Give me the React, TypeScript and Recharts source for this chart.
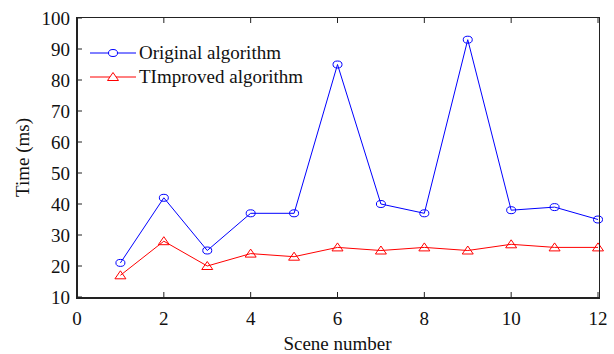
import { LineChart, Line, XAxis, YAxis, Label } from 'recharts';

const scenes = [1, 2, 3, 4, 5, 6, 7, 8, 9, 10, 11, 12];
const originalTimes = [21, 42, 25, 37, 37, 85, 40, 37, 93, 38, 39, 35];
const improvedTimes = [17, 28, 20, 24, 23, 26, 25, 26, 25, 27, 26, 26];
const xTicks = [0, 2, 4, 6, 8, 10, 12];
const yTicks = [10, 20, 30, 40, 50, 60, 70, 80, 90, 100];

const FONT = '"Liberation Serif", "Times New Roman", serif';
const BLUE = '#0000ff';
const RED = '#ff0000';
const AXIS = '#222222';
const TEXT = '#111';

const W = 614;
const H = 354;
const MARGIN = { top: 17, right: 15, bottom: 27, left: 17 };
const Y_AXIS_W = 60;
const X_AXIS_H = 30;

const data = scenes.map((s, i) => ({
    scene: s,
    original: originalTimes[i],
    improved: improvedTimes[i]
}));

const CircleDot = ({ cx, cy }: any) => (
    <ellipse cx={cx} cy={cy} rx={4.5} ry={3.5} fill="none" stroke={BLUE} strokeWidth={1} />
);

const TriangleDot = ({ cx, cy }: any) => (
    <path
        d={`M${cx},${cy - 4.5} L${cx + 5.5},${cy + 3.5} L${cx - 5.5},${cy + 3.5} Z`}
        fill="none"
        stroke={RED}
        strokeWidth={1}
    />
);

// inward ticks (matlab style): mark and label drawn together
const BottomTick = ({ x, y, payload }: any) => (
    <g>
        <line x1={x} y1={y} x2={x} y2={y - 5} stroke={AXIS} strokeWidth={1} />
        <text x={x} y={y + 15} dy="0.71em" textAnchor="middle" fontFamily={FONT} fontSize={19} fill={TEXT}>
            {payload.value}
        </text>
    </g>
);

const LeftTick = ({ x, y, payload }: any) => (
    <g>
        <line x1={x} y1={y} x2={x + 5} y2={y} stroke={AXIS} strokeWidth={1} />
        <text x={x - 7} y={y} dy="0.35em" textAnchor="end" fontFamily={FONT} fontSize={19} fill={TEXT}>
            {payload.value}
        </text>
    </g>
);

const TopTick = ({ x, y }: any) => <line x1={x} y1={y} x2={x} y2={y + 5} stroke={AXIS} strokeWidth={1} />;
const RightTick = ({ x, y }: any) => <line x1={x} y1={y} x2={x - 5} y2={y} stroke={AXIS} strokeWidth={1} />;

const XTitle = ({ viewBox }: any) => (
    <text
        x={viewBox.x + viewBox.width / 2}
        y={viewBox.y + 40}
        dy="0.71em"
        textAnchor="middle"
        fontFamily={FONT}
        fontSize={19}
        fill={TEXT}
    >
        Scene number
    </text>
);

const YTitle = ({ viewBox }: any) => {
    const cy = viewBox.y + viewBox.height / 2;
    return (
        <text
            x={22}
            y={cy}
            transform={`rotate(-90, 22, ${cy})`}
            textAnchor="middle"
            dominantBaseline="central"
            fontFamily={FONT}
            fontSize={19}
            fill={TEXT}
        >
            Time (ms)
        </text>
    );
};

const legendItems = [
    { name: 'Original algorithm', color: BLUE, tri: false },
    { name: 'TImproved algorithm', color: RED, tri: true }
];

const LegendBox = () => (
    <div
        style={{
            position: 'absolute',
            left: 90,
            top: 41,
            fontFamily: FONT,
            fontSize: 19,
            color: TEXT,
            lineHeight: '24px'
        }}
    >
        {legendItems.map(item => (
            <div key={item.name} style={{ display: 'flex', alignItems: 'center', height: 24 }}>
                <svg width={46} height={24} style={{ marginRight: 3 }}>
                    <line x1={0} y1={12} x2={46} y2={12} stroke={item.color} strokeWidth={1} />
                    {item.tri ? (
                        <path d="M23,7.5 L28.5,15.5 L17.5,15.5 Z" fill="white" stroke={item.color} />
                    ) : (
                        <ellipse cx={23} cy={12} rx={4.5} ry={3.5} fill="white" stroke={item.color} />
                    )}
                </svg>
                <span>{item.name}</span>
            </div>
        ))}
    </div>
);

// plot box outline, same rectangle the chart uses for its plot area
const plotLeft = MARGIN.left + Y_AXIS_W;
const plotTop = MARGIN.top + 1;
const plotRight = W - MARGIN.right - 1;
const plotBottom = H - MARGIN.bottom - X_AXIS_H;

const Frame = () => (
    <div
        style={{
            position: 'absolute',
            left: plotLeft - 1,
            top: plotTop - 1,
            width: plotRight - plotLeft,
            height: plotBottom - plotTop,
            borderTop: `1.5px solid ${AXIS}`,
            borderRight: `1.5px solid ${AXIS}`,
            borderLeft: `2px solid ${AXIS}`,
            borderBottom: `2px solid ${AXIS}`,
            pointerEvents: 'none'
        }}
    />
);

export default function App() {
    return (
        <div style={{ position: 'absolute', left: 0, top: 0, width: W, height: H, background: '#fff' }}>
            <LineChart width={W} height={H} data={data} margin={MARGIN}>
                <XAxis
                    dataKey="scene"
                    type="number"
                    domain={[0, 12]}
                    ticks={xTicks}
                    interval={0}
                    tickSize={0}
                    tickMargin={0}
                    height={X_AXIS_H}
                    tick={<BottomTick />}
                    axisLine={false}
                    tickLine={false}
                >
                    <Label content={<XTitle />} />
                </XAxis>
                <XAxis
                    xAxisId="top"
                    orientation="top"
                    dataKey="scene"
                    type="number"
                    domain={[0, 12]}
                    ticks={xTicks}
                    interval={0}
                    tickSize={0}
                    tickMargin={0}
                    height={1}
                    tick={<TopTick />}
                    axisLine={false}
                    tickLine={false}
                />
                <YAxis
                    type="number"
                    domain={[10, 100]}
                    ticks={yTicks}
                    interval={0}
                    tickSize={0}
                    tickMargin={0}
                    width={Y_AXIS_W}
                    tick={<LeftTick />}
                    axisLine={false}
                    tickLine={false}
                >
                    <Label content={<YTitle />} />
                </YAxis>
                <YAxis
                    yAxisId="right"
                    orientation="right"
                    type="number"
                    domain={[10, 100]}
                    ticks={yTicks}
                    interval={0}
                    tickSize={0}
                    tickMargin={0}
                    width={1}
                    tick={<RightTick />}
                    axisLine={false}
                    tickLine={false}
                />
                <Line
                    dataKey="original"
                    name="Original algorithm"
                    stroke={BLUE}
                    strokeWidth={1}
                    dot={<CircleDot />}
                    activeDot={false}
                    isAnimationActive={false}
                />
                <Line
                    dataKey="improved"
                    name="TImproved algorithm"
                    stroke={RED}
                    strokeWidth={1}
                    dot={<TriangleDot />}
                    activeDot={false}
                    isAnimationActive={false}
                />
            </LineChart>
            <Frame />
            <LegendBox />
        </div>
    );
}
